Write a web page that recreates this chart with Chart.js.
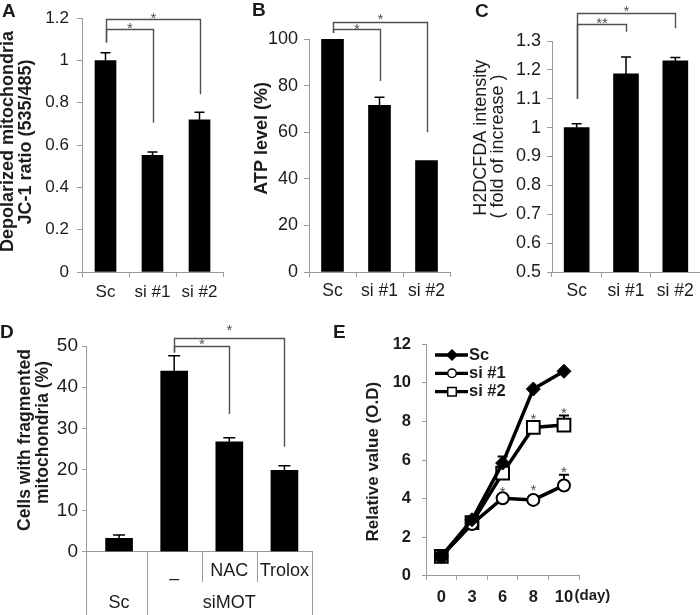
<!DOCTYPE html>
<html>
<head>
<meta charset="utf-8">
<title>Mitochondrial function panels</title>
<script src="https://cdn.jsdelivr.net/npm/chart.js@4/dist/chart.umd.min.js"></script>
<style>
html,body{margin:0;padding:0;background:#fff;overflow:hidden;}
#fig{position:relative;width:700px;height:615px;background:#fff;}
#fig canvas{position:absolute;}
</style>
</head>
<body>
<div id="fig">
<canvas id="cA" width="235" height="305" style="left:0px;top:0px"></canvas>
<canvas id="cB" width="230" height="305" style="left:235px;top:0px"></canvas>
<canvas id="cC" width="235" height="305" style="left:465px;top:0px"></canvas>
<canvas id="cD" width="330" height="310" style="left:0px;top:305px"></canvas>
<canvas id="cE" width="370" height="310" style="left:330px;top:305px"></canvas>
</div>
<script>
// ---------------- data ----------------
const groupLabels = ['Sc', 'si #1', 'si #2'];
const jc1Ratio = [1.00, 0.552, 0.72];
const jc1ErrTop = [1.037, 0.567, 0.755];
const atpLevel = [100, 71.5, 47.8];
const atpErrTop = [null, 75.0, null];
const h2dcfda = [1.00, 1.186, 1.231];
const h2dcfdaErrTop = [1.013, 1.245, 1.243];
const fragLabels = ['Sc', '–', 'NAC', 'Trolox'];
const fragGroups = ['Sc', 'siMOT'];
const fragValues = [3.25, 43.9, 26.7, 19.75];
const fragErrTop = [4.05, 47.6, 27.7, 20.9];
const dayLabels = ['0', '3', '6', '8', '10'];
const seriesNames = ['Sc', 'si #1', 'si #2'];
const growthSc = [1.0, 2.90, 5.84, 9.68, 10.6];
const growthSi1 = [1.0, 2.68, 4.02, 3.93, 4.68];
const growthSi2 = [1.0, 2.75, 5.32, 7.69, 7.81];
const growthScErrTop = [null, null, 6.18, null, null];
const growthSi1ErrTop = [null, null, null, null, 5.23];
const growthSi2ErrTop = [null, null, null, null, 8.31];

// significance annotations (value units)
const sigA = [
  {from:0, to:1, level:1.149, start:1.085, end:0.706, mark:'*', markAt:1.172},
  {from:0, to:2, level:1.195, start:1.085, end:0.84, mark:'*', markAt:1.218}
];
const sigB = [
  {from:0, to:1, level:104.2, start:102.6, end:82, mark:'*', markAt:106.0},
  {from:0, to:2, level:107.4, start:102.6, end:60, mark:'*', markAt:110.3}
];
const sigC = [
  {from:0, to:1, level:1.359, start:1.099, end:1.332, mark:'**', markAt:1.375},
  {from:0, to:2, level:1.396, start:1.099, end:1.344, mark:'*', markAt:1.417}
];
const sigD = [
  {from:1, to:2, level:50.0, start:48.4, end:33.5, mark:'*', markAt:51.46},
  {from:1, to:3, level:51.87, start:48.4, end:25.5, mark:'*', markAt:54.7}
];
const sigE = [
  {x:3, y:8.33, mark:'*'}, {x:4, y:8.6, mark:'*'},
  {x:2, y:4.53, mark:'*'}, {x:3, y:4.62, mark:'*'}, {x:4, y:5.57, mark:'*'}
];

// ---------------- styling helpers ----------------
const FONT = 'Arial, "Liberation Sans", Helvetica, sans-serif';
const AX = '#9a9a9a', INK = '#1c1c1c', BRK = '#505050';
Chart.defaults.font.family = FONT;
Chart.defaults.color = INK;
function fnt(size, bold){ return (bold ? 'bold ' : '') + size + 'px ' + FONT; }
function trimNum(v){ return String(+Number(v).toFixed(3)); }

function star(ctx, x, yc, mark, size) {
  size = size || 15;
  ctx.save(); ctx.font = fnt(size); ctx.fillStyle = BRK;
  ctx.textAlign = 'center'; ctx.textBaseline = 'alphabetic';
  ctx.fillText(mark, x, yc + 0.575 * size); ctx.restore();
}
function pageText(ctx, off, s) {
  ctx.save();
  ctx.font = s.font; ctx.fillStyle = INK;
  ctx.translate(s.x - off[0], s.y - off[1]);
  if (s.rot) ctx.rotate(-Math.PI / 2);
  ctx.textAlign = s.align || 'center';
  ctx.textBaseline = s.base || 'middle';
  ctx.fillText(s.t, 0, 0);
  ctx.restore();
}
function errBars(chart, p) {
  const {ctx, scales:{x, y}} = chart;
  ctx.save(); ctx.strokeStyle = '#000'; ctx.lineWidth = p.errW || 1.5;
  p.err.forEach(e => {
    e.tops.forEach((t, i) => {
      if (t == null) return;
      const px = x.getPixelForValue(i), y0 = y.getPixelForValue(e.vals[i]), y1 = y.getPixelForValue(t);
      ctx.beginPath(); ctx.moveTo(px, y0); ctx.lineTo(px, y1);
      ctx.moveTo(px - p.cap, y1); ctx.lineTo(px + p.cap, y1); ctx.stroke();
    });
  });
  ctx.restore();
}
function brackets(chart, list) {
  const {ctx, scales:{x, y}} = chart;
  ctx.save(); ctx.strokeStyle = BRK; ctx.lineWidth = 1.4;
  list.forEach(b => {
    const x0 = Math.round(x.getPixelForValue(b.from)) + 0.5, x1 = Math.round(x.getPixelForValue(b.to)) + 0.5;
    const yl = Math.round(y.getPixelForValue(b.level)) + 0.5;
    ctx.beginPath();
    ctx.moveTo(x0, y.getPixelForValue(b.start)); ctx.lineTo(x0, yl);
    ctx.lineTo(x1, yl); ctx.lineTo(x1, y.getPixelForValue(b.end)); ctx.stroke();
    star(ctx, (x0 + x1) / 2, y.getPixelForValue(b.markAt), b.mark);
  });
  ctx.restore();
}
function marker(ctx, kind, x, y, r, lw) {
  ctx.save(); ctx.lineWidth = lw || 1.6; ctx.strokeStyle = '#000';
  ctx.beginPath();
  if (kind === 'diamond') { ctx.moveTo(x, y - r); ctx.lineTo(x + r, y); ctx.lineTo(x, y + r); ctx.lineTo(x - r, y); ctx.closePath(); ctx.fillStyle = '#000'; }
  else if (kind === 'circle') { ctx.arc(x, y, r, 0, Math.PI * 2); ctx.fillStyle = '#fff'; }
  else { ctx.rect(x - r, y - r, 2 * r, 2 * r); ctx.fillStyle = '#fff'; }
  ctx.fill(); ctx.stroke(); ctx.restore();
}
function extras(p) {
  return {
    id: 'extras',
    beforeDatasetsDraw(chart) { if (p.err && p.errUnder) errBars(chart, p); },
    afterDatasetsDraw(chart) { if (p.err && !p.errUnder) errBars(chart, p); },
    afterDraw(chart) {
      const ctx = chart.ctx;
      if (p.table) p.table(chart);
      if (p.sig) brackets(chart, p.sig);
      if (p.stars) p.stars.forEach(s => star(ctx, chart.scales.x.getPixelForValue(s.x), chart.scales.y.getPixelForValue(s.y), s.mark));
      if (p.legend) p.legend(chart);
      (p.texts || []).forEach(s => pageText(ctx, p.off, s));
    }
  };
}

function barPanel(id, c) {
  return new Chart(document.getElementById(id), {
    type: 'bar',
    data: { labels: c.labels, datasets: [{ data: c.values, backgroundColor: '#000', borderWidth: 0, barThickness: c.barW }] },
    options: {
      responsive: false, animation: false, devicePixelRatio: 1,
      layout: { padding: { left: 0, top: c.padTop, right: c.padRight, bottom: 0 } },
      plugins: { legend: { display: false }, tooltip: { enabled: false } },
      scales: {
        x: {
          offset: true,
          grid: { display: true, drawOnChartArea: false, drawTicks: true, tickLength: 5, color: AX, offset: true },
          border: { color: AX, width: 1 },
          ticks: { font: { size: c.xFont }, color: INK, padding: c.xPad, autoSkip: false, maxRotation: 0 },
          afterFit: s => { s.height = c.xH; }
        },
        y: {
          min: c.min, max: c.max,
          grid: { drawOnChartArea: false, tickLength: 5, color: AX },
          border: { color: AX, width: 1 },
          ticks: { stepSize: c.step, font: { size: c.yFont }, color: INK, padding: c.yPad, callback: v => trimNum(v) },
          afterFit: s => { s.width = c.yW; }
        }
      }
    },
    plugins: [extras(c)]
  });
}

// ---------------- Panel A ----------------
barPanel('cA', {
  labels: groupLabels, values: jc1Ratio, barW: 21,
  min: 0, max: 1.2, step: 0.2, yW: 82, xH: 33, padTop: 12, padRight: 12,
  xFont: 17, yFont: 17, xPad: 5, yPad: 8,
  err: [{ vals: jc1Ratio, tops: jc1ErrTop }], cap: 5,
  sig: sigA, off: [0, 0],
  texts: [
    { t: 'A', x: 2, y: 17, font: fnt(19, true), align: 'left', base: 'alphabetic' },
    { t: 'Depolarized mitochondria', x: 8.5, y: 141.5, font: fnt(18, true), rot: true },
    { t: 'JC-1 ratio (535/485)', x: 26, y: 142, font: fnt(18, true), rot: true }
  ]
});

// ---------------- Panel B ----------------
barPanel('cB', {
  labels: groupLabels, values: atpLevel, barW: 22,
  min: 0, max: 100, step: 20, yW: 74, xH: 33, padTop: 39, padRight: 15,
  xFont: 17.5, yFont: 18, xPad: 4, yPad: 6,
  err: [{ vals: atpLevel, tops: atpErrTop }], cap: 5,
  sig: sigB, off: [235, 0],
  texts: [
    { t: 'B', x: 252, y: 15.5, font: fnt(19, true), align: 'left', base: 'alphabetic' },
    { t: 'ATP level (%)', x: 261.7, y: 138.3, font: fnt(18, true), rot: true }
  ]
});

// ---------------- Panel C ----------------
barPanel('cC', {
  labels: groupLabels, values: h2dcfda, barW: 25,
  min: 0.5, max: 1.3, step: 0.1, yW: 87, xH: 33, padTop: 41, padRight: 0,
  xFont: 17.5, yFont: 18, xPad: 4, yPad: 6,
  err: [{ vals: h2dcfda, tops: h2dcfdaErrTop }], cap: 5,
  sig: sigC, off: [465, 0],
  texts: [
    { t: 'C', x: 475, y: 16.7, font: fnt(19, true), align: 'left', base: 'alphabetic' },
    { t: 'H2DCFDA intensity', x: 481.5, y: 137.7, font: fnt(18), rot: true },
    { t: '( fold of increase )', x: 498, y: 146.5, font: fnt(18), rot: true }
  ]
});

// ---------------- Panel D ----------------
(function () {
  const off = [0, 305];
  const p = {
    err: [{ vals: fragValues, tops: fragErrTop }], cap: 6,
    sig: sigD, off: off,
    texts: [
      { t: 'D', x: 0, y: 338.3, font: fnt(19, true), align: 'left', base: 'alphabetic' },
      { t: 'Cells with fragmented', x: 25.5, y: 440, font: fnt(17.5, true), rot: true },
      { t: 'mitochondria (%)', x: 43, y: 432.5, font: fnt(17.5, true), rot: true }
    ],
    table(chart) {
      const {ctx, scales:{x}, chartArea:ca} = chart;
      const H = chart.height, rowY = 582 - off[1];
      ctx.save(); ctx.strokeStyle = AX; ctx.lineWidth = 1;
      const vline = (px, yb) => { const X = Math.round(px) + 0.5; ctx.beginPath(); ctx.moveTo(X, ca.bottom); ctx.lineTo(X, yb); ctx.stroke(); };
      vline(ca.left, H); vline(x.getPixelForValue(0.5), H);
      vline(x.getPixelForValue(1.5), rowY); vline(x.getPixelForValue(2.5), rowY);
      vline(x.getPixelForValue(3.5), H);
      ctx.fillStyle = INK; ctx.font = fnt(18); ctx.textAlign = 'center'; ctx.textBaseline = 'middle';
      ctx.fillText(fragLabels[1], x.getPixelForValue(1), 579 - off[1]);
      ctx.fillText(fragLabels[2], x.getPixelForValue(2), 571.5 - off[1]);
      ctx.fillText(fragLabels[3], x.getPixelForValue(3), 571.5 - off[1]);
      ctx.fillText(fragGroups[0], x.getPixelForValue(0), 603 - off[1]);
      ctx.fillText(fragGroups[1], x.getPixelForValue(2), 603 - off[1]);
      ctx.restore();
    }
  };
  new Chart(document.getElementById('cD'), {
    type: 'bar',
    data: { datasets: [{ data: fragValues.map((v, i) => ({ x: i, y: v })), backgroundColor: '#000', borderWidth: 0, barThickness: 27 }] },
    options: {
      responsive: false, animation: false, devicePixelRatio: 1,
      layout: { padding: { left: 0, top: 41, right: 18, bottom: 0 } },
      plugins: { legend: { display: false }, tooltip: { enabled: false } },
      scales: {
        x: {
          type: 'linear', min: -0.6, max: 3.5, offset: false,
          grid: { display: true, drawOnChartArea: false, drawTicks: false, offset: false, color: AX },
          border: { color: AX, width: 1 },
          ticks: { display: false },
          afterFit: s => { s.height = 63.3; }
        },
        y: {
          min: 0, max: 50,
          grid: { drawOnChartArea: false, tickLength: 4, color: AX },
          border: { color: AX, width: 1 },
          ticks: { stepSize: 10, font: { size: 19 }, color: INK, padding: 4 },
          afterFit: s => { s.width = 86; }
        }
      }
    },
    plugins: [extras(p)]
  });
})();

// ---------------- Panel E ----------------
(function () {
  const off = [330, 305];
  const kinds = ['diamond', 'circle', 'square'];
  const rowsY = [355, 373.3, 391.7];
  const p = {
    err: [{ vals: growthSc, tops: growthScErrTop }, { vals: growthSi1, tops: growthSi1ErrTop }, { vals: growthSi2, tops: growthSi2ErrTop }],
    errUnder: true, errW: 2, cap: 5,
    stars: sigE, off: off,
    texts: [
      { t: 'E', x: 333, y: 338.3, font: fnt(19, true), align: 'left', base: 'alphabetic' },
      { t: 'Relative value (O.D)', x: 373.4, y: 461.7, font: fnt(17, true), rot: true },
      { t: '(day)', x: 574.5, y: 595.5, font: fnt(15, true), align: 'left' }
    ],
    legend(chart) {
      const ctx = chart.ctx;
      seriesNames.forEach((name, i) => {
        const yy = rowsY[i] - off[1];
        ctx.save(); ctx.strokeStyle = '#000'; ctx.lineWidth = 3.3;
        ctx.beginPath(); ctx.moveTo(435 - off[0], yy); ctx.lineTo(468 - off[0], yy); ctx.stroke();
        ctx.restore();
        marker(ctx, kinds[i], 452 - off[0], yy, i === 0 ? 5 : 4.3, 1.5);
        ctx.save(); ctx.fillStyle = INK; ctx.font = fnt(16.5, true); ctx.textAlign = 'left'; ctx.textBaseline = 'middle';
        ctx.fillText(name, 469 - off[0], yy); ctx.restore();
      });
    }
  };
  const common = { borderColor: '#000', borderWidth: 3.5, tension: 0, pointBorderColor: '#000' };
  new Chart(document.getElementById('cE'), {
    type: 'line',
    data: {
      labels: dayLabels,
      datasets: [
        Object.assign({ label: seriesNames[0], data: growthSc, pointStyle: 'rectRot', pointRadius: 7, pointBackgroundColor: '#000', pointBorderWidth: 1 }, common),
        Object.assign({ label: seriesNames[1], data: growthSi1, pointStyle: 'circle', pointRadius: 6, pointBackgroundColor: '#fff', pointBorderWidth: 2 }, common),
        Object.assign({ label: seriesNames[2], data: growthSi2, pointStyle: 'rect', pointRadius: 9, pointBackgroundColor: '#fff', pointBorderWidth: 2 }, common)
      ]
    },
    options: {
      responsive: false, animation: false, devicePixelRatio: 1,
      layout: { padding: { left: 0, top: 39.3, right: 120.7, bottom: 0 } },
      plugins: { legend: { display: false }, tooltip: { enabled: false } },
      scales: {
        x: {
          type: 'category', offset: true,
          grid: { display: true, drawOnChartArea: false, drawTicks: true, tickLength: 4, color: AX, offset: true },
          border: { color: AX, width: 1 },
          ticks: { font: { size: 16.5, weight: 'bold' }, color: INK, padding: 7.4, autoSkip: false, maxRotation: 0 },
          afterFit: s => { s.height = 39.3; }
        },
        y: {
          min: 0, max: 12,
          grid: { drawOnChartArea: false, tickLength: 4, color: AX },
          border: { color: AX, width: 1 },
          ticks: { stepSize: 2, font: { size: 16.5, weight: 'bold' }, color: INK, padding: 11 },
          afterFit: s => { s.width = 96; }
        }
      }
    },
    plugins: [extras(p)]
  });
})();
</script>
</body>
</html>
